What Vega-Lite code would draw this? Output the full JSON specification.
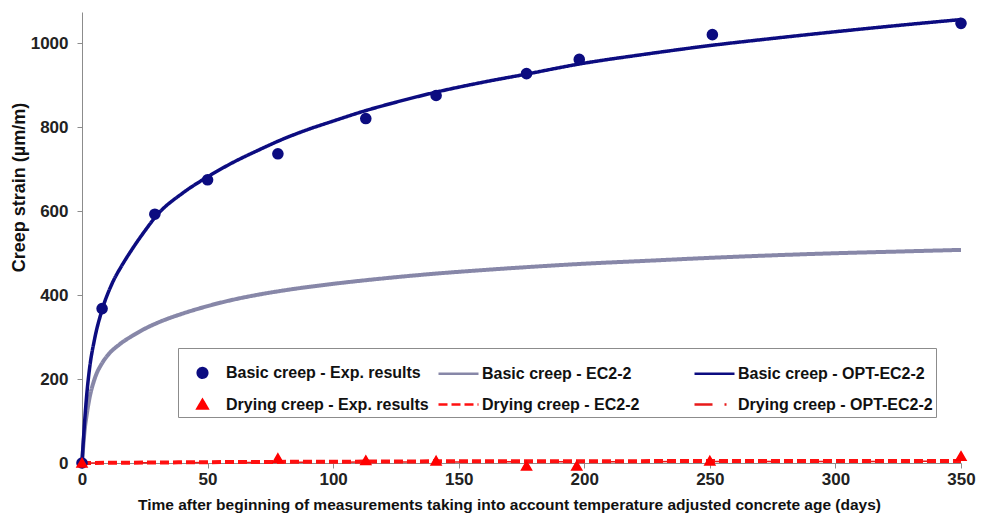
{
  "$schema": "https://vega.github.io/schema/vega-lite/v6.json",
  "width": 879,
  "height": 451,
  "autosize": {"type": "none"},
  "padding": {"left": 82, "top": 12, "right": 20, "bottom": 58},
  "background": "white",
  "config": {
    "view": {"stroke": null},
    "font": "Liberation Sans"
  },
  "data": {
    "values": [
      {"series": "Basic creep - OPT-EC2-2", "t": 0, "v": 0},
      {"series": "Basic creep - OPT-EC2-2", "t": 1, "v": 95},
      {"series": "Basic creep - OPT-EC2-2", "t": 2, "v": 170},
      {"series": "Basic creep - OPT-EC2-2", "t": 3, "v": 225},
      {"series": "Basic creep - OPT-EC2-2", "t": 5, "v": 295},
      {"series": "Basic creep - OPT-EC2-2", "t": 8, "v": 365},
      {"series": "Basic creep - OPT-EC2-2", "t": 12, "v": 428},
      {"series": "Basic creep - OPT-EC2-2", "t": 16, "v": 472},
      {"series": "Basic creep - OPT-EC2-2", "t": 20, "v": 510},
      {"series": "Basic creep - OPT-EC2-2", "t": 25, "v": 553},
      {"series": "Basic creep - OPT-EC2-2", "t": 30, "v": 592},
      {"series": "Basic creep - OPT-EC2-2", "t": 40, "v": 643},
      {"series": "Basic creep - OPT-EC2-2", "t": 50, "v": 682},
      {"series": "Basic creep - OPT-EC2-2", "t": 60, "v": 716},
      {"series": "Basic creep - OPT-EC2-2", "t": 70, "v": 745},
      {"series": "Basic creep - OPT-EC2-2", "t": 80, "v": 772},
      {"series": "Basic creep - OPT-EC2-2", "t": 90, "v": 795},
      {"series": "Basic creep - OPT-EC2-2", "t": 100, "v": 815},
      {"series": "Basic creep - OPT-EC2-2", "t": 113, "v": 840},
      {"series": "Basic creep - OPT-EC2-2", "t": 125, "v": 860},
      {"series": "Basic creep - OPT-EC2-2", "t": 141, "v": 884},
      {"series": "Basic creep - OPT-EC2-2", "t": 160, "v": 908},
      {"series": "Basic creep - OPT-EC2-2", "t": 177, "v": 927},
      {"series": "Basic creep - OPT-EC2-2", "t": 197, "v": 950},
      {"series": "Basic creep - OPT-EC2-2", "t": 225, "v": 975},
      {"series": "Basic creep - OPT-EC2-2", "t": 250, "v": 995},
      {"series": "Basic creep - OPT-EC2-2", "t": 275, "v": 1012},
      {"series": "Basic creep - OPT-EC2-2", "t": 300, "v": 1028},
      {"series": "Basic creep - OPT-EC2-2", "t": 325, "v": 1043},
      {"series": "Basic creep - OPT-EC2-2", "t": 350, "v": 1057},
      {"series": "Basic creep - EC2-2", "t": 0, "v": 0},
      {"series": "Basic creep - EC2-2", "t": 1, "v": 75},
      {"series": "Basic creep - EC2-2", "t": 2, "v": 120},
      {"series": "Basic creep - EC2-2", "t": 3, "v": 155},
      {"series": "Basic creep - EC2-2", "t": 5, "v": 200},
      {"series": "Basic creep - EC2-2", "t": 8, "v": 238},
      {"series": "Basic creep - EC2-2", "t": 10, "v": 255},
      {"series": "Basic creep - EC2-2", "t": 15, "v": 283},
      {"series": "Basic creep - EC2-2", "t": 20, "v": 303},
      {"series": "Basic creep - EC2-2", "t": 25, "v": 320},
      {"series": "Basic creep - EC2-2", "t": 30, "v": 334},
      {"series": "Basic creep - EC2-2", "t": 40, "v": 356},
      {"series": "Basic creep - EC2-2", "t": 50, "v": 374},
      {"series": "Basic creep - EC2-2", "t": 60, "v": 389},
      {"series": "Basic creep - EC2-2", "t": 70, "v": 401},
      {"series": "Basic creep - EC2-2", "t": 80, "v": 411},
      {"series": "Basic creep - EC2-2", "t": 100, "v": 427},
      {"series": "Basic creep - EC2-2", "t": 120, "v": 440},
      {"series": "Basic creep - EC2-2", "t": 140, "v": 451},
      {"series": "Basic creep - EC2-2", "t": 160, "v": 460},
      {"series": "Basic creep - EC2-2", "t": 180, "v": 468},
      {"series": "Basic creep - EC2-2", "t": 200, "v": 475},
      {"series": "Basic creep - EC2-2", "t": 225, "v": 482},
      {"series": "Basic creep - EC2-2", "t": 250, "v": 489},
      {"series": "Basic creep - EC2-2", "t": 275, "v": 495},
      {"series": "Basic creep - EC2-2", "t": 300, "v": 500},
      {"series": "Basic creep - EC2-2", "t": 325, "v": 504},
      {"series": "Basic creep - EC2-2", "t": 350, "v": 508},
      {"series": "Drying creep - EC2-2", "t": 0, "v": 0},
      {"series": "Drying creep - EC2-2", "t": 25, "v": 1},
      {"series": "Drying creep - EC2-2", "t": 50, "v": 2},
      {"series": "Drying creep - EC2-2", "t": 100, "v": 3},
      {"series": "Drying creep - EC2-2", "t": 150, "v": 4},
      {"series": "Drying creep - EC2-2", "t": 200, "v": 4},
      {"series": "Drying creep - EC2-2", "t": 250, "v": 5},
      {"series": "Drying creep - EC2-2", "t": 300, "v": 5},
      {"series": "Drying creep - EC2-2", "t": 350, "v": 5},
      {"series": "Drying creep - OPT-EC2-2", "t": 0, "v": 0},
      {"series": "Drying creep - OPT-EC2-2", "t": 50, "v": 1},
      {"series": "Drying creep - OPT-EC2-2", "t": 100, "v": 2},
      {"series": "Drying creep - OPT-EC2-2", "t": 200, "v": 3},
      {"series": "Drying creep - OPT-EC2-2", "t": 350, "v": 4},
      {"series": "Basic creep - Exp. results", "t": 0, "v": 0},
      {"series": "Basic creep - Exp. results", "t": 8, "v": 368},
      {"series": "Basic creep - Exp. results", "t": 29, "v": 593},
      {"series": "Basic creep - Exp. results", "t": 50, "v": 675},
      {"series": "Basic creep - Exp. results", "t": 78, "v": 737},
      {"series": "Basic creep - Exp. results", "t": 113, "v": 821},
      {"series": "Basic creep - Exp. results", "t": 141, "v": 876},
      {"series": "Basic creep - Exp. results", "t": 177, "v": 928},
      {"series": "Basic creep - Exp. results", "t": 198, "v": 962},
      {"series": "Basic creep - Exp. results", "t": 251, "v": 1021},
      {"series": "Basic creep - Exp. results", "t": 350, "v": 1048},
      {"series": "Drying creep - Exp. results", "t": 0, "v": 0},
      {"series": "Drying creep - Exp. results", "t": 78, "v": 11},
      {"series": "Drying creep - Exp. results", "t": 113, "v": 6},
      {"series": "Drying creep - Exp. results", "t": 141, "v": 5},
      {"series": "Drying creep - Exp. results", "t": 177, "v": -7},
      {"series": "Drying creep - Exp. results", "t": 197, "v": -7},
      {"series": "Drying creep - Exp. results", "t": 250, "v": 5},
      {"series": "Drying creep - Exp. results", "t": 350, "v": 16}
    ]
  },
  "encoding": {
    "x": {
      "field": "t", "type": "quantitative",
      "scale": {"domain": [0, 350], "nice": false, "zero": false},
      "axis": {
        "values": [0, 50, 100, 150, 200, 250, 300, 350],
        "grid": false,
        "domainColor": "#8c8c8c", "tickColor": "#8c8c8c", "tickSize": 5,
        "labelFontSize": 17, "labelFontWeight": "bold", "labelColor": "#222", "labelPadding": 3,
        "labelFlush": false, "labelOverlap": false,
        "title": "Time after beginning of measurements taking into account temperature adjusted concrete age (days)",
        "titleFontSize": 15.5, "titleFontWeight": "bold", "titleColor": "#111", "titlePadding": 10,
        "titleX": 427
      }
    },
    "y": {
      "field": "v", "type": "quantitative",
      "scale": {"domain": [0, 1075], "nice": false},
      "axis": {
        "values": [0, 200, 400, 600, 800, 1000],
        "format": "d",
        "grid": false,
        "domainColor": "#8c8c8c", "tickColor": "#8c8c8c", "tickSize": 5,
        "labelFontSize": 17, "labelFontWeight": "bold", "labelColor": "#222", "labelPadding": 9,
        "labelFlush": false, "labelOverlap": false,
        "title": "Creep strain (µm/m)",
        "titleFontSize": 18, "titleFontWeight": "bold", "titleColor": "#111",
        "titleX": -63, "titleY": 175, "titleAngle": -90, "titleAlign": "center", "titleBaseline": "middle"
      }
    },
    "color": {
      "field": "series", "type": "nominal",
      "scale": {
        "domain": ["Basic creep - Exp. results", "Drying creep - Exp. results", "Basic creep - EC2-2", "Drying creep - EC2-2", "Basic creep - OPT-EC2-2", "Drying creep - OPT-EC2-2"],
        "range": ["#0c0c80", "#ff0000", "#8787a8", "#ff1010", "#0c0c80", "#e81a1a"]
      },
      "legend": {
        "orient": "none", "legendX": 96, "legendY": 336,
        "columns": 3, "title": null, "gridAlign": "all",
        "symbolSize": 1600, "symbolStrokeWidth": 2.5, "symbolOpacity": 1,
        "labelFontSize": 16, "labelFontWeight": "bold", "labelColor": "#111", "labelLimit": 400, "labelOffset": 2,
        "columnPadding": 4, "rowPadding": -14, "padding": 3,
        "strokeColor": "#8c8c8c", "fillColor": "white"
      }
    }
  },
  "layer": [
    {
      "transform": [{"filter": "datum.series === 'Basic creep - EC2-2'"}],
      "mark": {"type": "line", "strokeWidth": 4, "interpolate": "monotone"},
      "encoding": {
        "strokeDash": {
          "field": "series", "type": "nominal",
          "scale": {
            "domain": ["Basic creep - Exp. results", "Drying creep - Exp. results", "Basic creep - EC2-2", "Drying creep - EC2-2", "Basic creep - OPT-EC2-2", "Drying creep - OPT-EC2-2"],
            "range": [[1, 0], [1, 0], [1, 0], [9, 4], [1, 0], [18, 12, 2, 20]]
          }
        }
      }
    },
    {
      "transform": [{"filter": "datum.series === 'Drying creep - OPT-EC2-2'"}],
      "mark": {"type": "line", "strokeWidth": 1.5, "interpolate": "monotone"},
      "encoding": {"strokeDash": {"field": "series", "type": "nominal"}}
    },
    {
      "transform": [{"filter": "datum.series === 'Drying creep - EC2-2'"}],
      "mark": {"type": "line", "strokeWidth": 4, "interpolate": "monotone"},
      "encoding": {"strokeDash": {"field": "series", "type": "nominal"}}
    },
    {
      "transform": [{"filter": "datum.series === 'Basic creep - OPT-EC2-2'"}],
      "mark": {"type": "line", "strokeWidth": 3.5, "interpolate": "monotone"},
      "encoding": {"strokeDash": {"field": "series", "type": "nominal"}}
    },
    {
      "transform": [{"filter": "datum.series === 'Basic creep - Exp. results'"}],
      "mark": {"type": "point", "filled": true, "opacity": 1, "size": 1600, "stroke": "#0c0c80", "strokeWidth": 2, "clip": false},
      "encoding": {
        "shape": {
          "field": "series", "type": "nominal",
          "scale": {
            "domain": ["Basic creep - Exp. results", "Drying creep - Exp. results", "Basic creep - EC2-2", "Drying creep - EC2-2", "Basic creep - OPT-EC2-2", "Drying creep - OPT-EC2-2"],
            "range": [
              "M-0.24,0A0.24,0.24 0 1,0 0.24,0A0.24,0.24 0 1,0 -0.24,0Z",
              "M0,-0.23L0.25,0.2L-0.25,0.2Z",
              "stroke", "stroke", "stroke", "stroke"
            ]
          }
        }
      }
    },
    {
      "transform": [{"filter": "datum.series === 'Drying creep - Exp. results'"}],
      "mark": {"type": "point", "filled": true, "opacity": 1, "size": 1600, "stroke": "#ff0000", "strokeWidth": 1.5, "clip": false},
      "encoding": {
        "shape": {"field": "series", "type": "nominal"}
      }
    }
  ]
}
